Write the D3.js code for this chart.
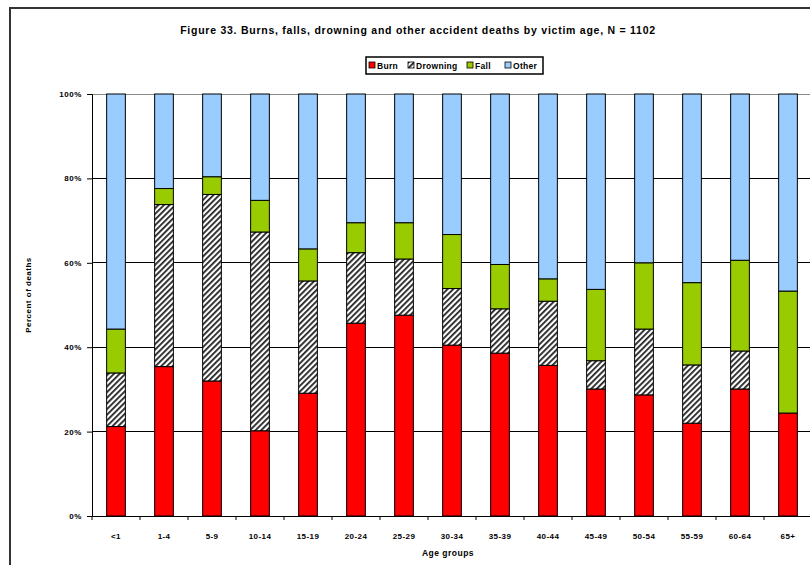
<!DOCTYPE html>
<html>
<head>
<meta charset="utf-8">
<script src="https://cdn.jsdelivr.net/npm/d3@7"></script>
<style>
  html, body { margin: 0; padding: 0; background: #fff; }
  svg { display: block; font-family: "Liberation Sans", Arial, sans-serif; }
</style>
</head>
<body>
<svg id="chart" width="810" height="565"></svg>
<script>
const categories = ["<1","1-4","5-9","10-14","15-19","20-24","25-29","30-34","35-39","40-44","45-49","50-54","55-59","60-64","65+"];
const seriesNames = ["Burn","Drowning","Fall","Other"];
const burn     = [21.2, 35.4, 32.0, 20.2, 29.1, 45.7, 47.6, 40.5, 38.6, 35.7, 30.1, 28.7, 22.0, 30.1, 24.4];
const drowning = [12.7, 38.4, 44.2, 47.1, 26.6, 16.7, 13.3, 13.4, 10.5, 15.2, 6.7, 15.6, 13.8, 9.0, 0.0];
const fall     = [10.4, 3.8, 4.2, 7.5, 7.6, 7.1, 8.6, 12.8, 10.5, 5.3, 16.9, 15.7, 19.5, 21.5, 28.9];
const other    = [55.7, 22.4, 19.6, 25.2, 36.7, 30.5, 30.5, 33.3, 40.4, 43.8, 46.3, 40.0, 44.7, 39.4, 46.7];
const yTicks = [0, 20, 40, 60, 80, 100];
const yTickLabels = ["0%","20%","40%","60%","80%","100%"];
const titleText = "Figure 33. Burns, falls, drowning and other accident deaths by victim age, N = 1102";

(function() {
const svg = d3.select("#chart");
const defs = svg.append("defs");
const pat = defs.append("pattern").attr("id","hatch").attr("patternUnits","userSpaceOnUse")
  .attr("width",4).attr("height",4).attr("patternTransform","rotate(45)");
pat.append("rect").attr("width",4).attr("height",4).attr("fill","#fff");
pat.append("rect").attr("width",1.8).attr("height",4).attr("fill","#222");

const fills = {Burn:"#FF0000", Drowning:"url(#hatch)", Fall:"#99CC00", Other:"#99CCFF"};

// outer frame
svg.append("path").attr("d","M10,570 L10,8 L820,8").attr("fill","none").attr("stroke","#333").attr("stroke-width",2);

const pLeft = 92, pRight = 812, pTop = 94, pBottom = 516;
const x = d3.scaleBand().domain(categories).range([pLeft, pRight]).paddingInner(0.61).paddingOuter(0.305);
const y = d3.scaleLinear().domain([0,100]).range([pBottom, pTop]);

// gridlines
svg.append("g").selectAll("line").data(yTicks.filter(d => d > 0)).join("line")
  .attr("x1", pLeft).attr("x2", pRight).attr("y1", d => y(d)).attr("y2", d => y(d))
  .attr("stroke", d => d === 100 ? "#888" : "#000").attr("stroke-width", 1).attr("shape-rendering","crispEdges");

const rows = categories.map((c,i) => ({cat:c, Burn:burn[i], Drowning:drowning[i], Fall:fall[i], Other:other[i]}));
const stacked = d3.stack().keys(seriesNames)(rows);

svg.append("g").selectAll("g").data(stacked).join("g")
  .attr("fill", d => fills[d.key])
  .selectAll("rect").data(d => d.filter(p => p[1]-p[0] > 0)).join("rect")
  .attr("x", d => x(d.data.cat)).attr("width", x.bandwidth())
  .attr("y", d => y(d[1])).attr("height", d => y(d[0]) - y(d[1]))
  .attr("stroke","#000").attr("stroke-width",1);

// axes
const yAxis = d3.axisLeft(y).tickValues(yTicks).tickFormat((d,i) => yTickLabels[i]).tickSize(5).tickPadding(5);
const gy = svg.append("g").attr("transform",`translate(${pLeft},0)`).call(yAxis);
gy.select(".domain").attr("stroke","#000");
gy.selectAll("line").attr("stroke","#000");
gy.selectAll("text").attr("font-size",8).attr("font-weight","bold").attr("fill","#000").attr("letter-spacing",0.6);

const xAxis = d3.axisBottom(x).tickSize(0).tickPadding(17);
const gx = svg.append("g").attr("transform",`translate(0,${pBottom})`).call(xAxis);
gx.select(".domain").attr("stroke","#000");
gx.selectAll("text").attr("font-size",8).attr("font-weight","bold").attr("fill","#000").attr("letter-spacing",0.4);
const step = x.step();
gx.append("g").selectAll("line").data(d3.range(categories.length+1)).join("line")
  .attr("x1", i => pLeft + i*step).attr("x2", i => pLeft + i*step).attr("y1",0).attr("y2",4)
  .attr("stroke","#000");

// titles
svg.append("text").attr("x",418).attr("y",34).attr("text-anchor","middle")
  .attr("font-size",10.5).attr("font-weight","bold").attr("letter-spacing",0.75).text(titleText);
svg.append("text").attr("transform","translate(31,295) rotate(-90)").attr("text-anchor","middle")
  .attr("font-size",8).attr("font-weight","bold").attr("letter-spacing",0.5).text("Percent of deaths");
svg.append("text").attr("x",448).attr("y",556).attr("text-anchor","middle")
  .attr("font-size",8.5).attr("font-weight","bold").attr("letter-spacing",0.5).text("Age groups");

// legend
const lg = svg.append("g");
lg.append("rect").attr("x",366).attr("y",57).attr("width",177).attr("height",17)
  .attr("fill","#fff").attr("stroke","#000").attr("stroke-width",1.5);
const legX = [369, 408, 467, 505];
seriesNames.forEach((s,i) => {
  lg.append("rect").attr("x",legX[i]).attr("y",62).attr("width",6).attr("height",6)
    .attr("fill",fills[s]).attr("stroke","#000").attr("stroke-width",0.8);
  lg.append("text").attr("x",legX[i]+8).attr("y",69).attr("font-size",8.5).attr("font-weight","bold").attr("letter-spacing",0.3).text(s);
});
})();
</script>
</body>
</html>
